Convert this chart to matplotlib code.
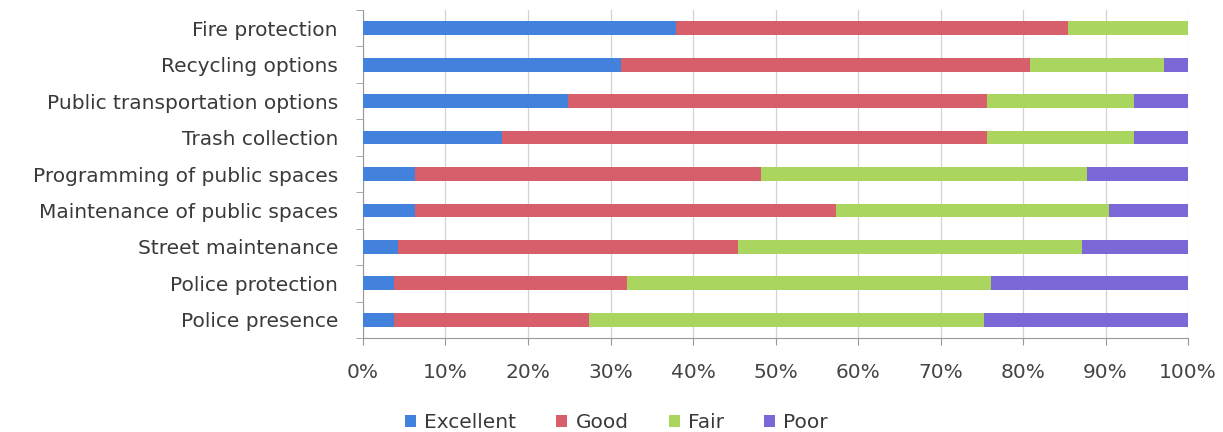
import numpy as np
import matplotlib as mpl
import matplotlib.pyplot as plt

mpl.rc('font', family='DejaVu Sans', size=14.5)

# --- survey ratings (percent of respondents) ---
services = ['Fire protection', 'Recycling options', 'Public transportation options',
            'Trash collection', 'Programming of public spaces',
            'Maintenance of public spaces', 'Street maintenance',
            'Police protection', 'Police presence']
excellent = [37.9, 31.3, 24.8, 16.9, 6.3, 6.3, 4.3, 3.8, 3.8]
good = [47.6, 49.6, 50.8, 58.7, 42.0, 51.0, 41.1, 28.2, 23.6]
fair = [14.5, 16.2, 17.9, 17.9, 39.4, 33.1, 41.8, 44.1, 47.9]
poor = [0.0, 2.9, 6.5, 6.5, 12.3, 9.6, 12.8, 23.9, 24.7]

ratings = ['Excellent', 'Good', 'Fair', 'Poor']
colors = ['#4382dc', '#d75f6c', '#aad65f', '#7b68d6']

fig = plt.figure(figsize=(12.23, 4.32), dpi=100)
ax = fig.add_axes([363/1223, 1 - 338/432, 825/1223, 328/432])

y = np.arange(len(services))[::-1]
left = np.zeros(len(services))
for name, vals, c in zip(ratings, [excellent, good, fair, poor], colors):
    ax.barh(y, vals, left=left, height=0.38, color=c, label=name, zorder=3)
    left += np.array(vals)

ax.set_xlim(0, 100)
ax.set_ylim(-0.5, len(services) - 0.5)
ax.set_xticks(np.arange(0, 101, 10))
ax.set_xticklabels(['{0}%'.format(v) for v in range(0, 101, 10)], color='#444444')
ax.set_yticks(y)
ax.set_yticklabels(services, color='#3a3a3a')
ax.set_yticks(np.arange(-0.5, len(services), 1), minor=True)
ax.tick_params(axis='y', which='major', length=0, pad=18)
ax.tick_params(axis='y', which='minor', length=5, color='#999999')
ax.tick_params(axis='x', length=5, color='#999999', pad=13)

ax.grid(axis='x', color='#d2d2d2', lw=0.9, zorder=0)
for s in ['top', 'right']:
    ax.spines[s].set_visible(False)
for s in ['left', 'bottom']:
    ax.spines[s].set_color('#999999')

fig.legend(loc='center', bbox_to_anchor=(0.504, 0.022), ncol=4, frameon=False,
           handlelength=0.55, handleheight=0.55, handletextpad=0.4, columnspacing=2.0,
           labelcolor='#3a3a3a')

fig.savefig('out.png', dpi=100)
